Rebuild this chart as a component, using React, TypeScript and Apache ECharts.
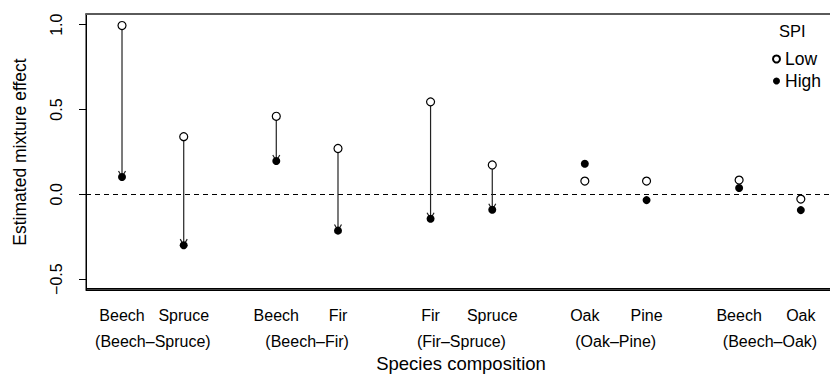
import React, { useEffect, useRef } from "react";
import * as echarts from "echarts";

const species = ["Beech", "Spruce", "Beech", "Fir", "Fir", "Spruce", "Oak", "Pine", "Beech", "Oak"];
const positions = [1, 2, 3.5, 4.5, 6, 7, 8.5, 9.5, 11, 12];
const groups = ["(Beech–Spruce)", "(Beech–Fir)", "(Fir–Spruce)", "(Oak–Pine)", "(Beech–Oak)"];
const groupPositions = [1.5, 4, 6.5, 9, 11.5];
const lowSPI = [0.995, 0.34, 0.46, 0.27, 0.545, 0.173, 0.078, 0.078, 0.084, -0.028];
const highSPI = [0.102, -0.3, 0.196, -0.214, -0.144, -0.091, 0.18, -0.034, 0.037, -0.093];
const hasArrow = [true, true, true, true, true, true, false, false, false, false];
const yTicks = [-0.5, 0, 0.5, 1.0];
const yMin = -0.564;
const yMax = 1.063;
const xMin = 0.4165;
const xMax = 12.57;

const FONT = '"Liberation Sans", Arial, Helvetica, sans-serif';

function nearestLabel(v: number, pos: number[], names: string[]) {
  let best = 0;
  for (let i = 1; i < pos.length; i++) {
    if (Math.abs(pos[i] - v) < Math.abs(pos[best] - v)) best = i;
  }
  return names[best];
}

export default function App() {
  const ref = useRef<HTMLDivElement>(null);
  useEffect(() => {
    document.body.style.margin = "0";
    const chart = echarts.init(ref.current!, null, { renderer: "svg" });
    const arrowData = positions
      .map((p, i) => [p, lowSPI[i], highSPI[i]])
      .filter((_, i) => hasArrow[i]);
    chart.setOption({
      animation: false,
      textStyle: { fontFamily: FONT, color: "#000" },
      grid: {
        left: 86,
        top: 14,
        width: 750,
        height: 276,
        containLabel: false,
        outerBoundsMode: "none",
        show: true,
        borderColor: "#000",
        borderWidth: 1,
        backgroundColor: "transparent",
      },
      title: {
        text: "SPI",
        left: 779,
        top: 22,
        padding: 0,
        textStyle: { fontFamily: FONT, fontSize: 16.5, fontWeight: "normal", color: "#000" },
      },
      legend: {
        orient: "vertical",
        left: 772,
        top: 50,
        padding: 0,
        itemWidth: 7,
        itemHeight: 7,
        itemGap: 4,
        selectedMode: false,
        icon: "circle",
        data: ["Low", "High"],
        textStyle: { fontFamily: FONT, fontSize: 17.5, color: "#000", lineHeight: 17 },
      },
      xAxis: [
        {
          type: "value",
          min: xMin,
          max: xMax,
          position: "bottom",
          axisLine: { show: true, onZero: false, lineStyle: { color: "#000", width: 1 } },
          axisTick: { show: false },
          splitLine: { show: false },
          axisLabel: {
            customValues: positions,
            margin: 17,
            fontSize: 16,
            fontFamily: FONT,
            color: "#000",
            formatter: (v: number) => nearestLabel(v, positions, species),
          },
        },
        {
          type: "value",
          min: xMin,
          max: xMax,
          position: "bottom",
          offset: 26,
          axisLine: { show: false, onZero: false },
          axisTick: { show: false },
          splitLine: { show: false },
          name: "Species composition",
          nameLocation: "middle",
          nameGap: 36,
          nameTextStyle: { fontFamily: FONT, fontSize: 18.5, color: "#000" },
          axisLabel: {
            customValues: groupPositions,
            margin: 17,
            fontSize: 16,
            fontFamily: FONT,
            color: "#000",
            formatter: (v: number) => nearestLabel(v, groupPositions, groups),
          },
        },
        {
          type: "value",
          min: xMin,
          max: xMax,
          position: "top",
          axisLine: { show: true, onZero: false, lineStyle: { color: "#5a5a5a", width: 2 } },
          axisTick: { show: false },
          axisLabel: { show: false },
          splitLine: { show: false },
        },
      ],
      yAxis: {
        type: "value",
        min: yMin,
        max: yMax,
        axisLine: { show: true, onZero: false, lineStyle: { color: "#000", width: 1 } },
        axisTick: { show: true, length: 7, customValues: yTicks, lineStyle: { color: "#000" } },
        splitLine: { show: false },
        axisLabel: {
          customValues: yTicks,
          rotate: 90,
          margin: 22,
          fontSize: 16,
          fontFamily: FONT,
          color: "#000",
          formatter: (v: number) => v.toFixed(1).replace("-", "\u2212"),
        },
        name: "Estimated mixture effect",
        nameLocation: "middle",
        nameRotate: 90,
        nameGap: 57,
        nameTextStyle: { fontFamily: FONT, fontSize: 17.5, color: "#000" },
      },
      series: [
        {
          type: "custom",
          name: "frame",
          silent: true,
          clip: false,
          z: 10,
          data: [[xMin, yMin, xMax]],
          encode: { x: [0, 2], y: 1 },
          renderItem: (params: any, api: any) => {
            const a = api.coord([api.value(0), api.value(1)]);
            const b = api.coord([api.value(2), api.value(1)]);
            return {
              type: "rect",
              shape: { x: a[0], y: a[1] - 2, width: b[0] - a[0], height: 1.5 },
              style: { fill: "#000" },
            };
          },
        },
        {
          type: "custom",
          name: "arrows",
          silent: true,
          z: 2,
          data: arrowData,
          encode: { x: 0, y: [1, 2] },
          renderItem: (params: any, api: any) => {
            const x = api.value(0);
            const a = api.coord([x, api.value(1)]);
            const b = api.coord([x, api.value(2)]);
            const dir = b[1] >= a[1] ? 1 : -1;
            const L = 7;
            const ang = Math.PI / 6;
            const dx = L * Math.sin(ang);
            const dy = L * Math.cos(ang) * dir;
            return {
              type: "group",
              children: [
                {
                  type: "line",
                  shape: { x1: a[0], y1: a[1], x2: b[0], y2: b[1] },
                  style: { stroke: "#222", lineWidth: 1.2 },
                },
                {
                  type: "polyline",
                  shape: { points: [[b[0] - dx, b[1] - dy], [b[0], b[1]], [b[0] + dx, b[1] - dy]] },
                  style: { stroke: "#222", fill: null, lineWidth: 1.2 },
                },
              ],
            };
          },
        },
        {
          type: "scatter",
          name: "Low",
          silent: true,
          z: 3,
          symbol: "circle",
          symbolSize: 8,
          itemStyle: { color: "#fff", borderColor: "#000", borderWidth: 1.2, opacity: 1 },
          data: positions.map((p, i) => [p, lowSPI[i]]),
        },
        {
          type: "scatter",
          name: "High",
          silent: true,
          z: 4,
          symbol: "circle",
          symbolSize: 8,
          itemStyle: { color: "#000", opacity: 1 },
          data: positions.map((p, i) => [p, highSPI[i]]),
          markLine: {
            silent: true,
            symbol: "none",
            label: { show: false },
            z: 1,
            lineStyle: { color: "#000", type: [5, 4], width: 1 },
            data: [{ yAxis: 0 }],
          },
        },
      ],
    });
    return () => chart.dispose();
  }, []);
  return <div ref={ref} style={{ width: 830, height: 374 }} />;
}
